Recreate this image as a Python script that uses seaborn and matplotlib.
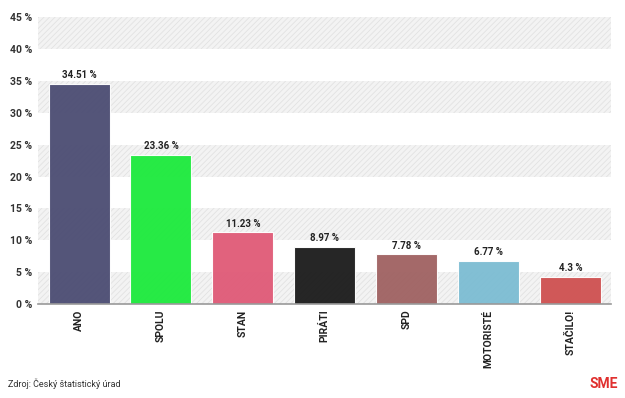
import matplotlib.pyplot as plt
import seaborn as sns
import pandas as pd

parties = ["ANO", "SPOLU", "STAN", "PIRÁTI", "SPD", "MOTORISTÉ", "STAČILO!"]
results = [34.51, 23.36, 11.23, 8.97, 7.78, 6.77, 4.3]
colors = ["#4d4e74", "#1eea3e", "#e05b78", "#1d1d1d", "#a06363", "#7dbdd3", "#cf5252"]
y_ticks = [0, 5, 10, 15, 20, 25, 30, 35, 40, 45]

sns.set_style("white")
plt.rcParams["font.family"] = ["Liberation Sans Narrow", "Roboto", "DejaVu Sans"]
plt.rcParams["hatch.linewidth"] = 0.6

df = pd.DataFrame({"party": parties, "result": results})

fig = plt.figure(figsize=(6.25, 3.98), dpi=100)
ax = fig.add_axes([0.061, 0.236, 0.917, 0.721])

# striped background bands
for lo in range(0, 45, 10):
    ax.axhspan(lo, lo + 5, facecolor="#f3f3f3", edgecolor="#e2e2e2",
               hatch="//////", linewidth=0, zorder=0)

sns.barplot(data=df, x="party", y="result", hue="party", palette=colors,
            legend=False, width=0.745, edgecolor="white", linewidth=0.8,
            saturation=1, alpha=0.96, ax=ax, zorder=2)

for i, v in enumerate(results):
    ax.text(i, v + 0.6, f"{v:g} %", ha="center", va="bottom",
            fontsize=7, fontweight="bold", color="#222222")

ax.set_ylim(0, 45)
ax.set_xlim(-0.5, 6.5)
ax.set_yticks(y_ticks)
ax.set_yticklabels([f"{t} %" for t in y_ticks], fontsize=7.5,
                   fontweight="bold", color="#333333")
ax.set_xticks(range(len(parties)))
ax.set_xticklabels(parties, rotation=90, fontsize=7.5, fontweight="bold",
                   color="#222222")
ax.tick_params(axis="both", length=0, pad=4)
ax.set_xlabel("")
ax.set_ylabel("")
for s in ["top", "right", "left"]:
    ax.spines[s].set_visible(False)
ax.spines["bottom"].set_color("#999999")
ax.spines["bottom"].set_linewidth(1.2)
ax.spines["bottom"].set_zorder(3)

fig.text(0.013, 0.035, "Zdroj: Český štatistický úrad", fontsize=6.5,
         color="#333333", va="center")
fig.text(0.988, 0.035, "SME", fontsize=10, fontweight="bold",
         color="#e0302f", ha="right", va="center")

fig.savefig("out.png", dpi=100)
